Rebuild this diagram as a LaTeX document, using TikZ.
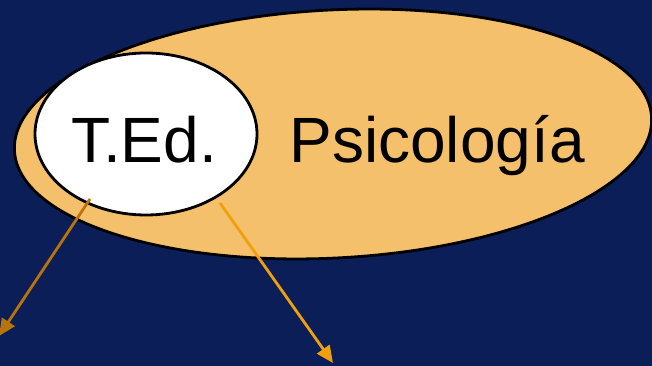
\documentclass[tikz,border=0pt]{standalone}
\usepackage{fontspec}
\setmainfont{Liberation Sans}
\usetikzlibrary{shapes.geometric, arrows.meta}

\definecolor{navy}{HTML}{0B1E57}
\definecolor{peach}{HTML}{F5C06B}
\definecolor{brownarrow}{HTML}{B8730A}
\definecolor{orangearrow}{HTML}{F0A00A}

\tikzset{
	field/.style={draw=black, line width=2.8pt, ellipse, inner sep=0pt},
	label/.style={anchor=base, font=\fontsize{64}{70}\selectfont},
	pointer/.style={line width=2.8pt, -{Triangle[length=17pt, width=15pt]}}
}

\begin{document}
\begin{tikzpicture}[x=1pt, y=1pt]
			% background
			\fill[navy] (0,0) rectangle (652,366);
			\useasboundingbox (0,0) rectangle (652,366);
			
			% psychology field
			\node[field, fill=peach, minimum width=638, minimum height=248, rotate=3] (psi) at (333,232) {};
			\node[label] (psitext) at (437,203) {Psicología};
			
			% educational technology
			\node[field, fill=white, minimum width=222, minimum height=162] (ted) at (146,232) {};
			\node[label] (tedtext) at (144,203) {T.Ed.};
			
			% pointers
			\coordinate (left start) at (90,167);
			\coordinate (left end) at (-1,30);
			\coordinate (right start) at (220,163);
			\coordinate (right end) at (333,3);
			\draw[pointer, brownarrow] (left start) -- (left end);
			\draw[pointer, orangearrow] (right start) -- (right end);
		\end{tikzpicture}
\end{document}
